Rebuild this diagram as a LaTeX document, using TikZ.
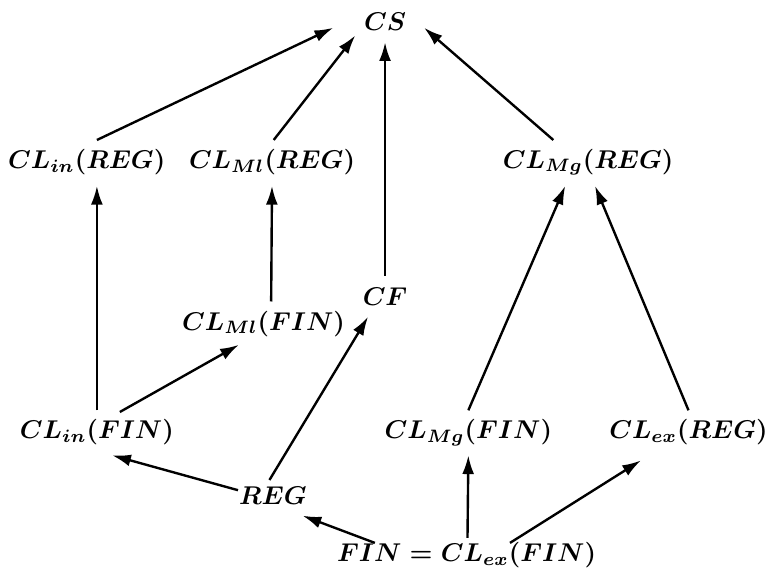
\documentclass[tikz,border=0pt]{standalone}
\usepackage{amsmath}
\usetikzlibrary{arrows.meta}
\tikzset{cl/.style={inner sep=2pt, font=\boldmath, scale=0.86, transform shape},
  inc/.style={-{Latex[length=2.2mm,width=1.4mm]}, thick, black}}

\begin{document}
\begin{tikzpicture}
  \useasboundingbox (0,0) rectangle (9,6.847);
  \node[cl] (cs) at (4.53,6.59) {$CS$};
  \node[cl] (inreg) at (1.02,4.94) {$CL_{in}(REG)$};
  \node[cl] (mlreg) at (3.2,4.94) {$CL_{Ml}(REG)$};
  \node[cl] (mgreg) at (6.92,4.94) {$CL_{Mg}(REG)$};
  \node[cl] (mlfin) at (3.1,3.04) {$CL_{Ml}(FIN)$};
  \node[cl] (cf) at (4.53,3.36) {$CF$};
  \node[cl] (infin) at (1.14,1.76) {$CL_{in}(FIN)$};
  \node[cl] (mgfin) at (5.51,1.76) {$CL_{Mg}(FIN)$};
  \node[cl] (exreg) at (8.1,1.76) {$CL_{ex}(REG)$};
  \node[cl] (reg) at (3.21,1.02) {$REG$};
  \node[cl] (fin) at (5.49,0.32) {$FIN = CL_{ex}(FIN)$};
  % upper level
  \draw [inc] ([shift={(0.12,0.26)}]inreg.center) -- ([shift={(-0.61,-0.07)}]cs.center);
  \draw [inc] ([shift={(0.02,0.26)}]mlreg.center) -- ([shift={(-0.35,-0.16)}]cs.center);
  \draw [inc] ([shift={(0,0.24)}]cf.center) -- ([shift={(0,-0.24)}]cs.center);
  \draw [inc] ([shift={(-0.41,0.26)}]mgreg.center) -- ([shift={(0.46,-0.07)}]cs.center);
  % middle
  \draw [inc] ([shift={(0,0.26)}]infin.center) -- ([shift={(0.12,-0.28)}]inreg.center);
  \draw [inc] ([shift={(0.09,0.26)}]mlfin.center) -- ([shift={(0,-0.28)}]mlreg.center);
  \draw [inc] ([shift={(0.27,0.24)}]infin.center) -- ([shift={(-0.29,-0.25)}]mlfin.center);
  \draw [inc] ([shift={(-0.04,0.18)}]reg.center) -- ([shift={(-0.2,-0.24)}]cf.center);
  \draw [inc] ([shift={(0,0.26)}]mgfin.center) -- ([shift={(-0.27,-0.28)}]mgreg.center);
  \draw [inc] ([shift={(0,0.26)}]exreg.center) -- ([shift={(0.08,-0.28)}]mgreg.center);
  % bottom
  \draw [inc] ([shift={(-0.41,0.06)}]reg.center) -- ([shift={(0.18,-0.27)}]infin.center);
  \draw [inc] ([shift={(-1.08,0.14)}]fin.center) -- ([shift={(0.35,-0.24)}]reg.center);
  \draw [inc] ([shift={(0.01,0.2)}]fin.center) -- ([shift={(0,-0.27)}]mgfin.center);
  \draw [inc] ([shift={(0.51,0.14)}]fin.center) -- ([shift={(-0.56,-0.33)}]exreg.center);
\end{tikzpicture}
\end{document}
